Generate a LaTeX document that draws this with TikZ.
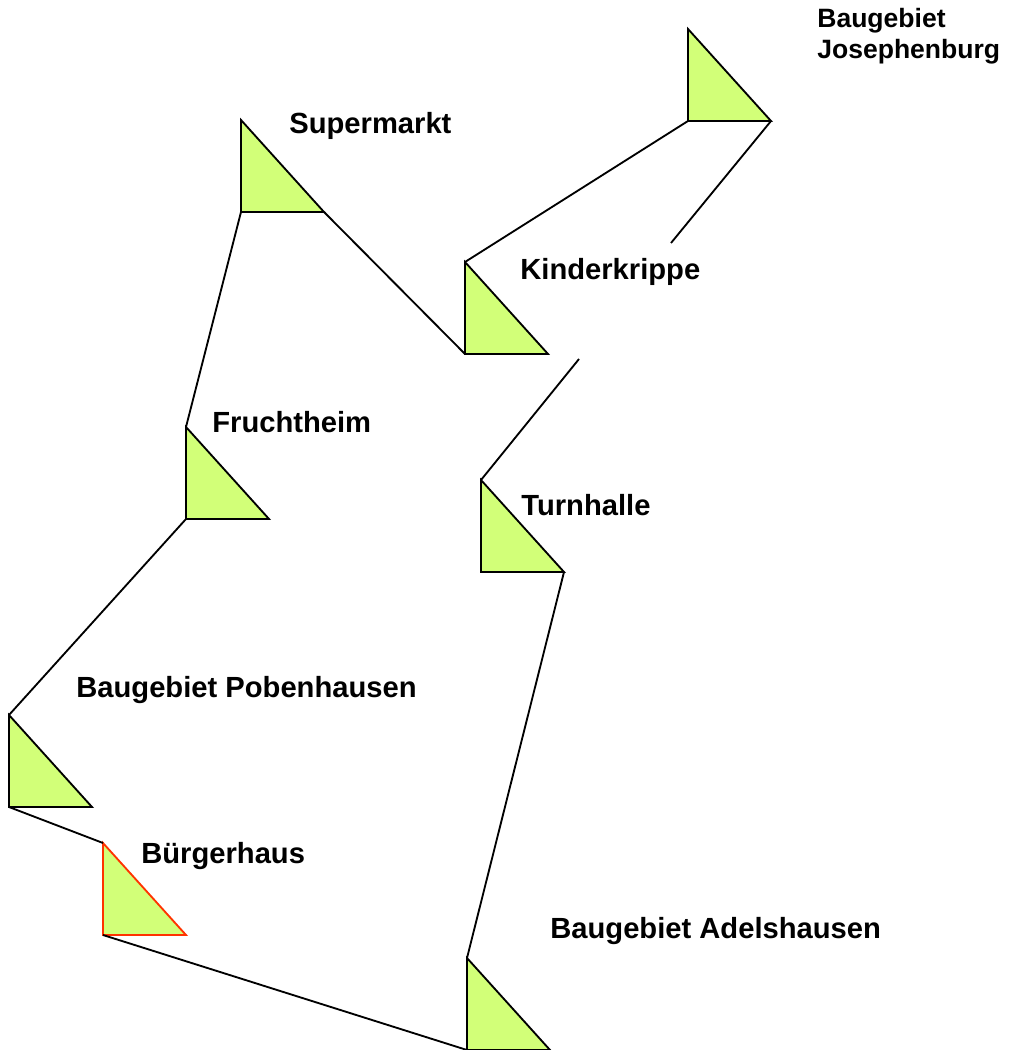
\documentclass[tikz,border=0pt]{standalone}
\usepackage{fontspec}
\setmainfont{Liberation Sans}
\usetikzlibrary{calc}
\definecolor{stopfill}{RGB}{210,255,120}
\definecolor{stopred}{RGB}{255,51,0}
\tikzset{
  x=0.02cm,y=-0.02cm,
  stoplabel/.style={font=\bfseries\fontsize{16.6}{19}\selectfont,anchor=west,inner sep=0pt,align=left},
  smalllabel/.style={stoplabel,font=\bfseries\fontsize{15.1}{17.5}\selectfont},
  routeline/.style={black,line width=1.05pt},
  stopmark/.style={fill=stopfill,draw=black,line width=1.05pt,line join=miter}
}
\newcommand{\stopat}[3][black]{
  \coordinate (#2a) at (#3);
  \coordinate (#2b) at ($(#3)+(0,92)$);
  \coordinate (#2c) at ($(#3)+(83,92)$);
  \draw[stopmark,draw=#1] (#2a) -- (#2b) -- (#2c) -- cycle;
}
\begin{document}
\begin{tikzpicture}
\useasboundingbox (0,0) rectangle (1014,1050);
\stopat{josephenburg}{688,29}
\stopat{supermarkt}{241,120}
\stopat{krippe}{465,262}
\stopat{fruchtheim}{186,427}
\stopat{turnhalle}{481,480}
\stopat{pobenhausen}{9,715}
\stopat[stopred]{buergerhaus}{103,843}
\stopat{adelshausen}{467,958}
\coordinate (gapa) at (671,243);
\coordinate (gapb) at (579,359);
\draw[routeline] (josephenburgb) -- (krippea);
\draw[routeline] (josephenburgc) -- (gapa);
\draw[routeline] (gapb) -- (turnhallea);
\draw[routeline] (turnhallec) -- (adelshausena);
\draw[routeline] (adelshausenb) -- (buergerhausb);
\draw[routeline] (buergerhausa) -- (pobenhausenb);
\draw[routeline] (pobenhausena) -- (fruchtheimb);
\draw[routeline] (fruchtheima) -- (supermarktb);
\draw[routeline] (supermarktc) -- (krippeb);
\node[smalllabel] (ljosephenburg) at (817,36) {Baugebiet\\Josephenburg};
\node[stoplabel] (lsupermarkt) at (289,126) {Supermarkt};
\node[stoplabel] (lkrippe) at (520,272) {Kinderkrippe};
\node[stoplabel] (lfruchtheim) at (212,422) {Fruchtheim};
\node[stoplabel] (lturnhalle) at (521,505) {Turnhalle};
\node[stoplabel] (lpobenhausen) at (76,690) {Baugebiet Pobenhausen};
\node[stoplabel] (lbuergerhaus) at (141,856) {Bürgerhaus};
\node[stoplabel] (ladelshausen) at (550,931) {Baugebiet Adelshausen};
\end{tikzpicture}
\end{document}
